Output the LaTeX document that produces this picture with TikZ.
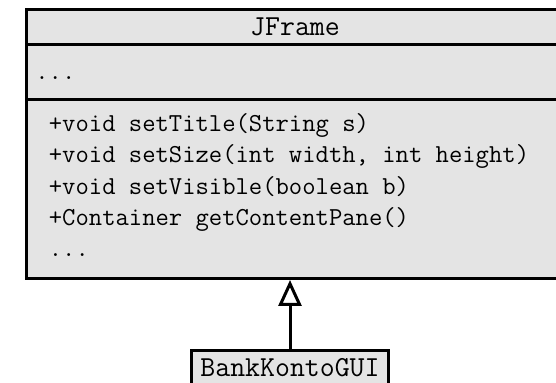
\documentclass[tikz,border=0pt]{standalone}
\usetikzlibrary{arrows.meta}
\definecolor{boxfill}{gray}{0.895}
\begin{document}
\begin{tikzpicture}[x=0.5pt,y=-0.5pt,
  classbox/.style={draw, line width=1.5pt, fill=boxfill},
  member/.style={font=\fontsize{12.95}{15}\selectfont\ttfamily, inner sep=0pt, anchor=base west},
  classname/.style={font=\fontsize{14.5}{17}\selectfont\ttfamily},
  inherit/.style={line width=1.5pt, -{Triangle[open, length=13pt, width=11.5pt]}}]
\useasboundingbox (0,0) rectangle (556,383);
% class JFrame with its three compartments
\node[classbox, anchor=north west, inner sep=0pt,
      minimum width=270pt, minimum height=134.5pt] (jframe) at (25,8) {};
\draw[line width=1.5pt] (jframe.north west |- 0,45) -- (jframe.north east |- 0,45);
\draw[line width=1.5pt] (jframe.north west |- 0,100) -- (jframe.north east |- 0,100);
\node[classname, inner sep=0pt, anchor=base] (jname) at (295,36) {JFrame};
\node[member] (attr) at (35,80) {...};
\node[member] (m1) at (48.5,131.7) {+void setTitle(String s)};
\node[member] (m2) at (48.5,163) {+void setSize(int width, int height)};
\node[member] (m3) at (48.5,194.3) {+void setVisible(boolean b)};
\node[member] (m4) at (48.5,225.6) {+Container getContentPane()};
\node[member] (m5) at (48.5,256.9) {...};
% subclass
\node[classbox, classname, inner xsep=4.25pt, inner ysep=4pt, anchor=base] (gui) at (290,377) {BankKontoGUI};
\draw[inherit] (gui.north) -- (gui.north |- jframe.south);
\end{tikzpicture}
\end{document}
